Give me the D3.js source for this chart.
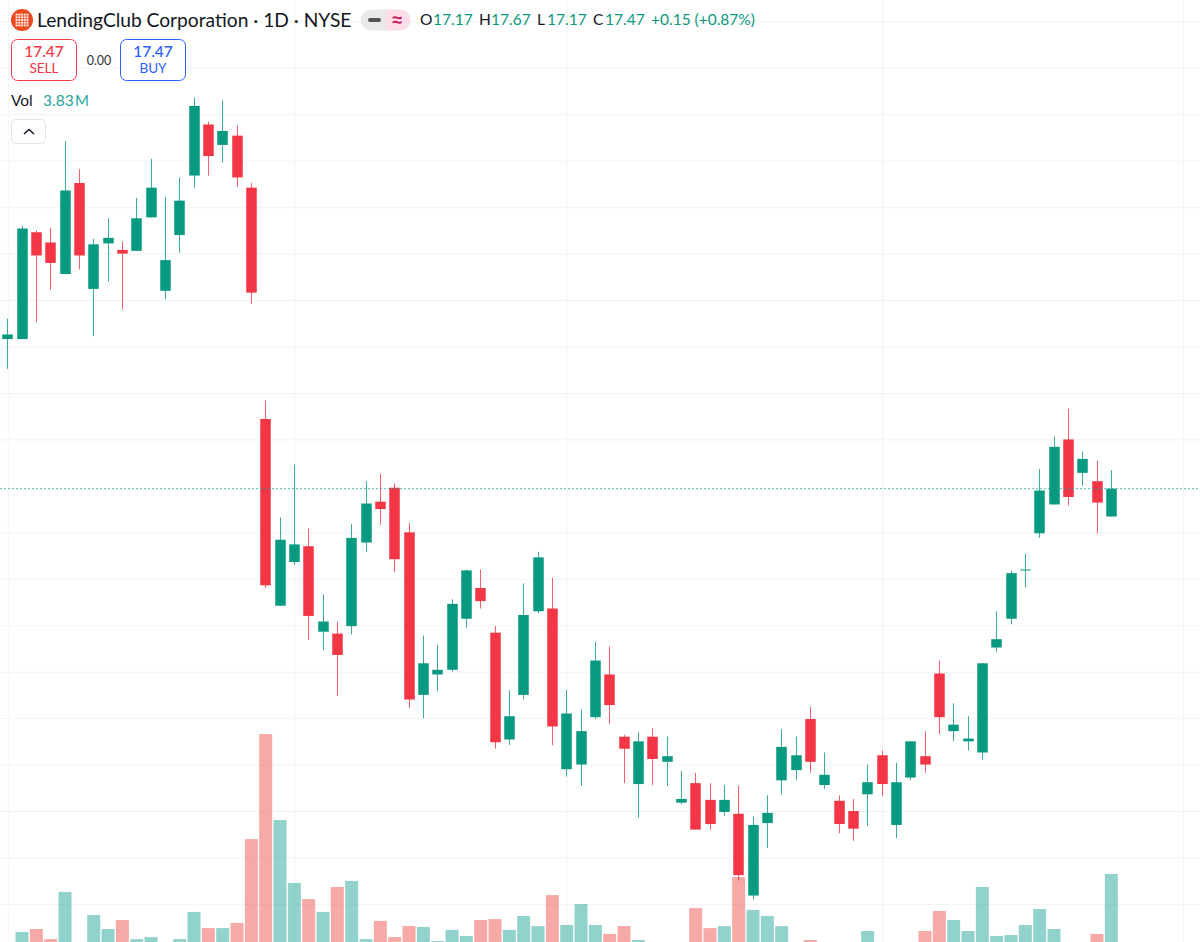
<!DOCTYPE html>
<html lang="en">
  <head>
    <meta charset="utf-8" />
    <title>LendingClub Corporation 1D</title>
    <script src="https://d3js.org/d3.v7.min.js"></script>
    <style>
      html, body { margin: 0; padding: 0; background: #fff; }
      svg { display: block; font-family: "Noto Sans", sans-serif; }
    </style>
  </head>
  <body>
    <svg id="chart" width="1200" height="942"></svg>
    <script>
      // --------------------------------------------------
      // Data
      // --------------------------------------------------
      const opens = [
        19.08, 19.08, 20.23, 20.12, 19.78, 20.76, 19.62, 20.11, 20.04, 20.03,
        20.39, 19.60, 20.20, 20.84, 21.39, 21.17, 21.27, 20.71, 18.22, 16.21,
        16.68, 16.85, 15.93, 15.91, 15.99, 16.89, 17.33, 17.48, 17.00, 15.25,
        15.47, 15.52, 16.07, 16.40, 15.92, 14.77, 15.25, 16.15, 16.18, 14.45,
        14.50, 15.01, 15.47, 14.80, 14.29, 14.80, 14.53, 14.09, 14.30, 14.12,
        13.99, 13.97, 13.09, 13.87, 14.33, 14.44, 14.99, 14.28, 14.11, 14.00,
        14.18, 14.60, 13.85, 14.36, 14.59, 15.48, 14.86, 14.75, 14.63, 15.76,
        16.07, 16.59, 16.99, 17.30, 18.00, 17.64, 17.55, 17.17
      ];
      const highs = [
        19.30, 20.30, 20.25, 20.28, 21.21, 20.91, 20.16, 20.38, 20.13, 20.60,
        21.02, 20.61, 20.82, 21.68, 21.42, 21.65, 21.38, 20.76, 18.42, 17.16,
        17.73, 17.04, 16.33, 16.04, 17.09, 17.55, 17.63, 17.53, 17.10, 15.89,
        15.79, 16.28, 16.60, 16.60, 15.99, 15.30, 16.45, 16.79, 16.51, 15.30,
        15.09, 15.82, 15.77, 14.82, 14.85, 14.89, 14.80, 14.43, 14.41, 14.30,
        14.28, 14.27, 13.94, 14.17, 14.88, 14.80, 15.12, 14.63, 14.17, 14.13,
        14.50, 14.65, 14.52, 14.75, 14.86, 15.62, 15.16, 15.02, 15.59, 16.15,
        16.59, 16.77, 17.68, 18.03, 18.33, 17.87, 17.77, 17.67
      ];
      const lows = [
        18.76, 19.08, 19.26, 19.61, 19.78, 19.83, 19.11, 19.70, 19.40, 20.03,
        20.39, 19.51, 20.01, 20.71, 20.84, 20.98, 20.72, 19.46, 16.40, 16.21,
        16.65, 15.84, 15.73, 15.24, 15.90, 16.79, 17.08, 16.57, 15.11, 15.00,
        15.29, 15.50, 15.97, 16.18, 14.67, 14.71, 15.20, 16.13, 14.71, 14.37,
        14.27, 14.99, 14.94, 14.30, 13.93, 14.28, 14.27, 14.07, 13.80, 13.80,
        13.95, 13.25, 13.05, 13.60, 14.18, 14.33, 14.41, 14.24, 13.76, 13.68,
        13.84, 14.16, 13.71, 14.33, 14.41, 14.83, 14.75, 14.65, 14.55, 15.71,
        16.01, 16.41, 16.94, 17.30, 17.29, 17.50, 16.99, 17.17
      ];
      const closes = [
        19.13, 20.27, 19.98, 19.90, 20.68, 19.98, 20.10, 20.17, 20.00, 20.38,
        20.71, 19.93, 20.57, 21.59, 21.05, 21.32, 20.82, 19.58, 16.43, 16.92,
        16.87, 16.10, 16.04, 15.68, 16.94, 17.31, 17.25, 16.71, 15.20, 15.59,
        15.52, 16.23, 16.59, 16.26, 14.74, 15.02, 16.11, 16.73, 14.91, 15.05,
        14.86, 15.62, 15.14, 14.67, 14.75, 14.56, 14.59, 14.13, 13.80, 13.86,
        14.12, 13.31, 13.85, 13.98, 14.69, 14.60, 14.53, 14.39, 13.86, 13.81,
        14.31, 14.29, 14.31, 14.75, 14.50, 15.01, 14.93, 14.78, 15.59, 15.85,
        16.56, 16.60, 17.45, 17.92, 17.38, 17.79, 17.32, 17.47
      ];
      // volume in millions, the ones at 0.6 sit below the bottom edge of the picture
      const volumes = [
        0.60, 1.25, 1.38, 0.93, 3.03, 0.60, 2.00, 1.38, 1.78, 0.93,
        1.02, 0.60, 0.93, 2.14, 1.42, 1.42, 1.65, 5.38, 10.06, 6.23,
        3.43, 2.71, 2.14, 3.25, 3.52, 0.93, 1.74, 1.02, 1.51, 1.47,
        0.85, 1.34, 1.07, 1.78, 1.82, 1.34, 1.96, 1.51, 2.89, 1.56,
        2.49, 1.56, 1.16, 1.51, 0.89, 0.60, 0.60, 0.60, 2.31, 1.42,
        1.51, 3.69, 2.23, 1.96, 1.51, 0.60, 0.89, 0.60, 0.60, 0.60,
        1.29, 0.60, 0.60, 0.60, 1.29, 2.18, 1.78, 1.29, 3.25, 1.07,
        1.11, 1.56, 2.27, 1.38, 0.60, 0.60, 1.16, 3.83
      ];
      const monthStarts = [0, 20, 39, 61, 82];
      const priceGrid = d3.range(13, 23, 0.5).filter((p) => p !== 17.5);
      const lastClose = 17.47;

      // --------------------------------------------------
      // Scales
      // --------------------------------------------------
      const width = 1200;
      const height = 942;
      const green = "#089981";
      const red = "#f23645";
      const headerFont = "Lato, sans-serif";

      const svg = d3.select("#chart");
      const x = d3.scaleLinear().domain([0, 82]).range([7.7, 1183]);
      const y = d3.scaleLinear().domain([12.59, 22.73]).range([height, 0]);
      const yVol = d3.scaleLinear().domain([0, 10.06]).range([960, 734]);

      const candleW = 10.5;
      const volW = 13;
      const isUp = (i) => closes[i] >= opens[i];
      const px = (v) => Math.floor(v) + 0.5;

      // --------------------------------------------------
      // Grid (axes with long ticks and no labels)
      // --------------------------------------------------
      svg.append("g")
        .call(d3.axisRight(y).tickValues(priceGrid).tickSize(width).tickFormat(""))
        .call((g) => g.select(".domain").remove())
        .selectAll("line").attr("stroke", "#f3f3f3");

      svg.append("g")
        .call(d3.axisBottom(x).tickValues(monthStarts).tickSize(height).tickFormat(""))
        .call((g) => g.select(".domain").remove())
        .selectAll("line").attr("stroke", "#f3f3f3");

      // --------------------------------------------------
      // Volume, wicks, bodies
      // --------------------------------------------------
      svg.append("g")
        .selectAll("rect")
        .data(volumes)
        .join("rect")
        .attr("x", (d, i) => x(i) - volW / 2)
        .attr("width", volW)
        .attr("y", (d) => yVol(d))
        .attr("height", (d) => yVol(0) - yVol(d))
        .attr("fill", (d, i) => (isUp(i) ? "#26a69a" : "#ef5350"))
        .attr("fill-opacity", 0.5);

      svg.append("g")
        .selectAll("line")
        .data(highs)
        .join("line")
        .attr("x1", (d, i) => px(x(i)))
        .attr("x2", (d, i) => px(x(i)))
        .attr("y1", (d) => y(d))
        .attr("y2", (d, i) => y(lows[i]))
        .attr("stroke", (d, i) => (isUp(i) ? green : red))
        .attr("stroke-opacity", 0.8)
        .attr("stroke-width", 1);

      svg.append("g")
        .selectAll("rect")
        .data(opens)
        .join("rect")
        .attr("x", (d, i) => px(x(i)) - candleW / 2)
        .attr("width", candleW)
        .attr("y", (d, i) => y(Math.max(d, closes[i])))
        .attr("height", (d, i) => Math.max(1, Math.abs(y(d) - y(closes[i]))))
        .attr("fill", (d, i) => (isUp(i) ? green : red));

      // last price line
      svg.append("line")
        .attr("x1", 0)
        .attr("x2", width)
        .attr("y1", y(lastClose))
        .attr("y2", y(lastClose))
        .attr("stroke", "#26a69a")
        .attr("stroke-opacity", 0.75)
        .attr("stroke-dasharray", "2 2");

      // --------------------------------------------------
      // Header
      // --------------------------------------------------
      svg.append("circle").attr("cx", 22).attr("cy", 20).attr("r", 11).attr("fill", "#ea4a1f");
      svg.append("g")
        .selectAll("rect")
        .data(d3.cross(d3.range(5), d3.range(5)))
        .join("rect")
        .attr("x", (d) => 15.6 + d[0] * 2.7)
        .attr("y", (d) => 13.6 + d[1] * 2.7)
        .attr("width", 2)
        .attr("height", 2)
        .attr("fill", "#ffe9e0");

      svg.append("text")
        .attr("x", 37)
        .attr("y", 27)
        .attr("font-family", headerFont)
        .attr("font-size", 19.2)
        .attr("fill", "#131722")
        .text("LendingClub Corporation · 1D · NYSE");

      // the two status pills next to the title
      svg.append("path").attr("d", "M386 9.5H371a10.5 10.5 0 0 0 0 21H386Z").attr("fill", "#e9e9ea");
      svg.append("path").attr("d", "M386 9.5H400a10.5 10.5 0 0 1 0 21H386Z").attr("fill", "#fcdde8");
      svg.append("rect").attr("x", 368).attr("y", 18).attr("width", 13).attr("height", 4).attr("rx", 2).attr("fill", "#555");
      svg.append("text")
        .attr("x", 397.5)
        .attr("y", 26)
        .attr("text-anchor", "middle")
        .attr("font-size", 18)
        .attr("font-weight", 700)
        .attr("fill", "#c2185b")
        .text("≈");

      // OHLC readout, each pair placed where the reference has it
      const ohlc = svg.append("g").attr("font-family", headerFont).attr("font-size", 15.5);
      [["O", "17.17", 420, 433], ["H", "17.67", 479, 491], ["L", "17.17", 537, 547], ["C", "17.47", 593, 605]].forEach(([k, v, kx, vx]) => {
        ohlc.append("text").attr("x", kx).attr("y", 25).attr("fill", "#131722").text(k);
        ohlc.append("text").attr("x", vx).attr("y", 25).attr("fill", green).text(v);
      });
      ohlc.append("text").attr("x", 651).attr("y", 25).attr("fill", green).text("+0.15 (+0.87%)");

      // sell / buy buttons
      const button = (left, color, price, label) => {
        svg.append("rect")
          .attr("x", left)
          .attr("y", 39.5)
          .attr("width", 65)
          .attr("height", 41)
          .attr("rx", 6)
          .attr("fill", "#fff")
          .attr("stroke", color);
        svg.append("text")
          .attr("x", left + 32.5)
          .attr("y", 57)
          .attr("text-anchor", "middle")
          .attr("font-family", headerFont)
          .attr("font-size", 15.5)
          .attr("font-weight", 500)
          .attr("fill", color)
          .text(price);
        svg.append("text")
          .attr("x", left + 32.5)
          .attr("y", 73)
          .attr("text-anchor", "middle")
          .attr("font-family", headerFont)
          .attr("font-size", 13.5)
          .attr("fill", color)
          .text(label);
      };
      button(11.5, red, "17.47", "SELL");
      button(120.5, "#2962ff", "17.47", "BUY");

      svg.append("text")
        .attr("x", 99)
        .attr("y", 65)
        .attr("text-anchor", "middle")
        .attr("font-family", headerFont)
        .attr("font-size", 12.5)
        .attr("fill", "#333")
        .text("0.00");

      svg.append("text").attr("x", 11).attr("y", 106).attr("font-family", headerFont).attr("font-size", 15.5).attr("fill", "#131722").text("Vol");
      svg.append("text").attr("x", 43).attr("y", 106).attr("font-family", headerFont).attr("font-size", 15.5).attr("fill", "#26a69a").text("3.83");
      svg.append("text").attr("x", 75).attr("y", 106).attr("font-family", headerFont).attr("font-size", 15).attr("fill", "#26a69a").text("M");

      // collapse button
      svg.append("rect")
        .attr("x", 11.5)
        .attr("y", 119.5)
        .attr("width", 34)
        .attr("height", 24)
        .attr("rx", 4)
        .attr("fill", "#fff")
        .attr("stroke", "#e0e3eb");
      svg.append("path")
        .attr("d", "M24 134l5-4.5 5 4.5")
        .attr("fill", "none")
        .attr("stroke", "#131722")
        .attr("stroke-width", 1.5);
    </script>
  </body>
</html>
